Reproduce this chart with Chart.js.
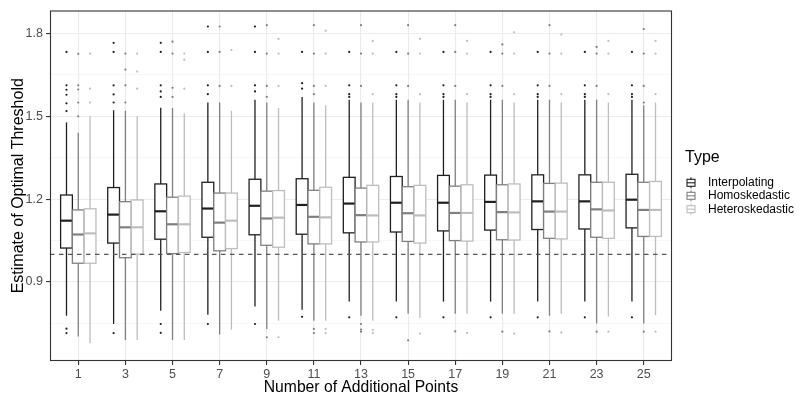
<!DOCTYPE html>
<html>
<head>
<meta charset="utf-8">
<script src="https://cdn.jsdelivr.net/npm/chart.js@4.4.0/dist/chart.umd.min.js"></script>
<style>
  html, body { margin: 0; padding: 0; background: #fff; }
  #wrap { width: 800px; height: 403px; position: relative; }
</style>
</head>
<body>
<div id="wrap"><canvas id="chart"></canvas></div>
<script>
(function () {
  'use strict';

  const groupLabels = ['1', '3', '5', '7', '9', '11', '13', '15', '17', '19', '21', '23', '25'];
  const typeNames = ['Interpolating', 'Homoskedastic', 'Heteroskedastic'];
  const typeColors = ['#1f1f1f', '#7f7f7f', '#bdbdbd'];

  // Interpolating
  const interpLo  = [0.778, 0.748, 0.796, 0.781, 0.811, 0.800, 0.829, 0.829, 0.829, 0.829, 0.829, 0.829, 0.829];
  const interpQ1  = [1.023, 1.041, 1.055, 1.062, 1.071, 1.073, 1.078, 1.081, 1.085, 1.088, 1.090, 1.092, 1.096];
  const interpMed = [1.122, 1.144, 1.156, 1.166, 1.176, 1.179, 1.184, 1.187, 1.187, 1.190, 1.192, 1.192, 1.198];
  const interpQ3  = [1.215, 1.242, 1.255, 1.261, 1.272, 1.274, 1.279, 1.282, 1.286, 1.287, 1.288, 1.288, 1.290];
  const interpHi  = [1.478, 1.522, 1.531, 1.550, 1.560, 1.570, 1.560, 1.560, 1.560, 1.560, 1.560, 1.560, 1.560];
  const interpOut = [
    [1.519, 1.547, 1.578, 1.596, 1.612, 1.733, 0.731, 0.715],
    [1.550, 1.579, 1.612, 1.733, 1.766, 0.715],
    [1.570, 1.590, 1.612, 1.733, 1.766, 0.748, 0.716],
    [1.580, 1.612, 1.733, 1.825, 0.748],
    [1.590, 1.612, 1.733, 1.825, 0.748],
    [1.600, 1.620, 1.733, 0.774],
    [1.570, 1.580, 1.612, 1.733, 0.772],
    [1.570, 1.580, 1.612, 1.733, 0.772],
    [1.570, 1.580, 1.612, 1.733, 0.772],
    [1.570, 1.580, 1.612, 1.733, 0.772],
    [1.570, 1.580, 1.612, 1.733, 0.772],
    [1.570, 1.580, 1.612, 1.733, 0.772],
    [1.570, 1.580, 1.612, 1.733, 0.772]
  ];

  // Homoskedastic
  const homoLo  = [0.703, 0.690, 0.690, 0.710, 0.730, 0.760, 0.778, 0.785, 0.785, 0.785, 0.778, 0.750, 0.750];
  const homoQ1  = [0.968, 0.988, 1.003, 1.013, 1.033, 1.038, 1.045, 1.047, 1.050, 1.053, 1.058, 1.062, 1.065];
  const homoMed = [1.072, 1.098, 1.109, 1.115, 1.130, 1.136, 1.142, 1.149, 1.150, 1.153, 1.155, 1.163, 1.161];
  const homoQ3  = [1.161, 1.191, 1.207, 1.222, 1.229, 1.232, 1.240, 1.245, 1.247, 1.252, 1.257, 1.261, 1.261];
  const homoHi  = [1.440, 1.520, 1.530, 1.550, 1.550, 1.550, 1.550, 1.560, 1.560, 1.560, 1.560, 1.560, 1.540];
  const homoOut = [
    [1.500, 1.550, 1.597, 1.612, 1.726],
    [1.550, 1.612, 1.669, 1.727],
    [1.570, 1.603, 1.727, 1.770],
    [1.610, 1.733, 1.825],
    [1.570, 1.610, 1.727, 1.830, 0.700],
    [1.580, 1.610, 1.727, 1.830, 0.730, 0.715],
    [1.610, 1.727, 1.830, 0.748, 0.728, 0.720],
    [1.610, 1.727, 1.830, 0.689],
    [1.610, 1.733, 1.830, 0.721],
    [1.610, 1.727, 1.760, 0.720],
    [1.610, 1.727, 1.830, 0.721],
    [1.610, 1.727, 1.751, 0.720],
    [1.550, 1.610, 1.727, 1.816, 0.720]
  ];

  // Heteroskedastic
  const heteroLo  = [0.678, 0.690, 0.690, 0.727, 0.760, 0.760, 0.760, 0.770, 0.785, 0.785, 0.785, 0.775, 0.780];
  const heteroQ1  = [0.968, 1.001, 1.007, 1.021, 1.026, 1.038, 1.045, 1.041, 1.048, 1.052, 1.056, 1.058, 1.065];
  const heteroMed = [1.076, 1.098, 1.109, 1.122, 1.133, 1.134, 1.141, 1.141, 1.150, 1.152, 1.155, 1.159, 1.161];
  const heteroQ3  = [1.165, 1.197, 1.211, 1.222, 1.231, 1.243, 1.250, 1.250, 1.252, 1.255, 1.258, 1.261, 1.264];
  const heteroHi  = [1.500, 1.500, 1.510, 1.520, 1.530, 1.540, 1.550, 1.550, 1.550, 1.550, 1.550, 1.550, 1.550];
  const heteroOut = [
    [1.550, 1.600, 1.727],
    [1.600, 1.662, 1.727],
    [1.600, 1.705, 1.727],
    [1.610, 1.740],
    [1.610, 1.727, 1.780, 0.700],
    [1.610, 1.727, 1.810, 0.730, 0.715],
    [1.580, 1.727, 1.773, 0.727, 0.715],
    [1.580, 1.727, 1.780, 0.713],
    [1.580, 1.727, 1.773, 0.715],
    [1.580, 1.727, 1.804, 0.713],
    [1.580, 1.727, 1.796, 0.717],
    [1.580, 1.727, 1.773, 0.720],
    [1.580, 1.727, 1.773, 0.720]
  ];

  const yTickValues = [0.9, 1.2, 1.5, 1.8];
  const yMinorValues = [0.75, 1.05, 1.35, 1.65];
  const refLine = 1.0;

  const Y_MIN = 0.614, Y_MAX = 1.883;
  const X_MIN = -0.6, X_MAX = groupLabels.length - 1 + 0.6;
  const DODGE = 0.25;
  const FONT = '"Liberation Sans", Arial, sans-serif';

  const types = [
    { lo: interpLo, q1: interpQ1, med: interpMed, q3: interpQ3, hi: interpHi, out: interpOut },
    { lo: homoLo, q1: homoQ1, med: homoMed, q3: homoQ3, hi: homoHi, out: homoOut },
    { lo: heteroLo, q1: heteroQ1, med: heteroMed, q3: heteroQ3, hi: heteroHi, out: heteroOut }
  ];

  function outlierPoints(t) {
    return types[t].out.flatMap((vals, i) => vals.map(v => ({ x: i + (t - 1) * DODGE, y: v })));
  }

  function line(ctx, x1, y1, x2, y2) {
    ctx.beginPath();
    ctx.moveTo(x1, y1);
    ctx.lineTo(x2, y2);
    ctx.stroke();
  }

  const boxPlugin = {
    id: 'boxes',
    beforeDatasetsDraw(chart) {
      const { ctx, scales: { x, y } } = chart;
      const half = (x.getPixelForValue(DODGE) - x.getPixelForValue(0)) / 2;
      ctx.save();
      types.forEach((tp, t) => {
        tp.med.forEach((m, i) => {
          const cx = x.getPixelForValue(i + (t - 1) * DODGE);
          const yLo = y.getPixelForValue(tp.lo[i]);
          const yQ1 = y.getPixelForValue(tp.q1[i]);
          const yMed = y.getPixelForValue(m);
          const yQ3 = y.getPixelForValue(tp.q3[i]);
          const yHi = y.getPixelForValue(tp.hi[i]);
          ctx.strokeStyle = typeColors[t];
          ctx.lineWidth = 1.3;
          line(ctx, cx, yQ3, cx, yHi);
          line(ctx, cx, yQ1, cx, yLo);
          ctx.fillStyle = '#fff';
          ctx.fillRect(cx - half, yQ3, half * 2, yQ1 - yQ3);
          ctx.strokeRect(cx - half, yQ3, half * 2, yQ1 - yQ3);
          ctx.lineWidth = 2.2;
          line(ctx, cx - half, yMed, cx + half, yMed);
        });
      });
      ctx.restore();
    },
    afterDraw(chart) {
      const { ctx, chartArea: a } = chart;
      ctx.save();
      ctx.strokeStyle = '#333';
      ctx.lineWidth = 1.1;
      ctx.strokeRect(a.left + 0.5, a.top + 0.5, a.right - a.left - 1, a.bottom - a.top - 1);

      // legend
      ctx.fillStyle = '#000';
      ctx.textBaseline = 'middle';
      ctx.font = '16px ' + FONT;
      ctx.fillText('Type', 685, 158);
      ctx.font = '12px ' + FONT;
      const rows = [182.8, 195.8, 209.2];
      typeNames.forEach((name, t) => {
        const cy = rows[t];
        const kx = 691;
        ctx.strokeStyle = typeColors[t];
        ctx.lineWidth = 1.1;
        line(ctx, kx, cy - 5.5, kx, cy + 5.5);
        ctx.fillStyle = '#fff';
        ctx.fillRect(kx - 4, cy - 3.5, 8, 7);
        ctx.strokeRect(kx - 4, cy - 3.5, 8, 7);
        line(ctx, kx - 4, cy, kx + 4, cy);
        ctx.fillStyle = '#000';
        ctx.fillText(name, 708, cy);
      });
      ctx.restore();
    }
  };

  const datasets = [
    {
      type: 'scatter',
      label: 'ref',
      data: [{ x: X_MIN, y: refLine }, { x: X_MAX, y: refLine }],
      showLine: true,
      borderColor: '#555',
      borderWidth: 1.4,
      borderDash: [4.5, 4.5],
      pointRadius: 0
    }
  ].concat(typeNames.map((name, t) => ({
    label: name,
    data: outlierPoints(t),
    backgroundColor: typeColors[t],
    borderWidth: 0,
    pointRadius: 1.1,
    pointHoverRadius: 1.1
  })));

  const isMinor = c => c.tick && yMinorValues.includes(c.tick.value);

  new Chart(document.getElementById('chart').getContext('2d'), {
    type: 'scatter',
    data: { datasets: datasets },
    plugins: [boxPlugin],
    options: {
      responsive: true,
      maintainAspectRatio: false,
      animation: false,
      layout: { padding: { top: 4, right: 128, left: 0, bottom: 0 } },
      plugins: { legend: { display: false }, tooltip: { enabled: false } },
      scales: {
        x: {
          type: 'linear',
          min: X_MIN,
          max: X_MAX,
          afterBuildTicks: s => { s.ticks = groupLabels.map((_, i) => ({ value: i })); },
          afterFit: s => { s.height = 42; },
          border: { display: false },
          grid: { color: '#ebebeb', lineWidth: 1.1, tickLength: 4, tickColor: '#333' },
          ticks: {
            autoSkip: false,
            maxRotation: 0,
            padding: 2,
            color: '#4d4d4d',
            font: { family: FONT, size: 12.5 },
            callback: v => groupLabels[v]
          },
          title: {
            display: true,
            text: 'Number of Additional Points',
            color: '#000',
            font: { family: FONT, size: 15.7 },
            padding: { top: 0, bottom: 6 }
          }
        },
        y: {
          type: 'linear',
          min: Y_MIN,
          max: Y_MAX,
          afterBuildTicks: s => {
            s.ticks = yMinorValues.concat(yTickValues).sort((a, b) => a - b).map(v => ({ value: v }));
          },
          afterFit: s => { s.width = 50; },
          border: { display: false },
          grid: {
            color: c => isMinor(c) ? '#f2f2f2' : '#ebebeb',
            lineWidth: c => isMinor(c) ? 0.6 : 1.1,
            tickLength: 4,
            tickColor: c => isMinor(c) ? 'rgba(0,0,0,0)' : '#333'
          },
          ticks: {
            autoSkip: false,
            padding: 3,
            color: '#4d4d4d',
            font: { family: FONT, size: 12.5 },
            callback: v => yTickValues.includes(v) ? v.toFixed(1) : ''
          },
          title: {
            display: true,
            text: 'Estimate of Optimal Threshold',
            color: '#000',
            font: { family: FONT, size: 16 },
            padding: { top: 9, bottom: 0 }
          }
        }
      }
    }
  });
})();
</script>
</body>
</html>
